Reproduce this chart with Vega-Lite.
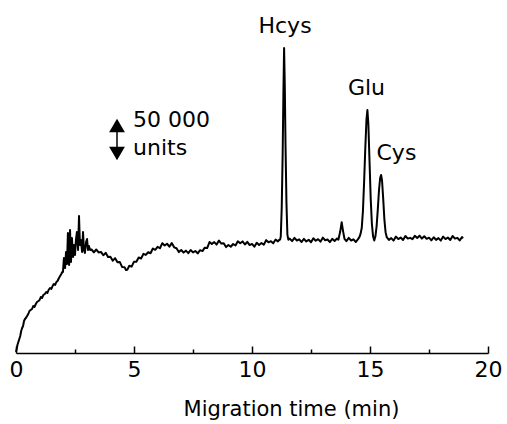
{
  "$schema": "https://vega.github.io/schema/vega-lite/v6.json",
  "width": 472,
  "height": 353,
  "autosize": {"type": "none"},
  "padding": {"left": 16, "right": 19, "top": 0, "bottom": 71},
  "background": "white",
  "config": {"view": {"stroke": null}, "font": "DejaVu Sans"},
  "datasets": {
    "trace": [
      {"time":0,"signal":1.2},{"time":0.03,"signal":4.8},{"time":0.06,"signal":9.6},{"time":0.10,"signal":13.2},{"time":0.14,"signal":16.8},{"time":0.18,"signal":20.4},{"time":0.22,"signal":26.4},{"time":0.26,"signal":30},{"time":0.30,"signal":32.4},{"time":0.34,"signal":38.4},{"time":0.38,"signal":40.8},{"time":0.42,"signal":42},{"time":0.47,"signal":44.4},{"time":0.52,"signal":46.8},{"time":0.57,"signal":50.4},{"time":0.62,"signal":51.6},{"time":0.68,"signal":52.8},{"time":0.73,"signal":56.4},{"time":0.78,"signal":55.2},{"time":0.84,"signal":58.8},{"time":0.89,"signal":61.2},{"time":0.95,"signal":62.4},{"time":1.00,"signal":63.6},{"time":1.05,"signal":67.2},{"time":1.10,"signal":66},{"time":1.16,"signal":69.6},{"time":1.22,"signal":70.8},{"time":1.28,"signal":73.2},{"time":1.33,"signal":72},{"time":1.38,"signal":75.6},{"time":1.44,"signal":78},{"time":1.50,"signal":76.8},{"time":1.55,"signal":80.4},{"time":1.60,"signal":82.8},{"time":1.66,"signal":81.6},{"time":1.71,"signal":85.2},{"time":1.76,"signal":86.4},{"time":1.82,"signal":90},{"time":1.87,"signal":92.4},{"time":1.92,"signal":94.8},{"time":1.96,"signal":97.2},
      {"time":1.99,"signal":97.2},{"time":2.03,"signal":114},{"time":2.08,"signal":102},{"time":2.12,"signal":121.2},{"time":2.16,"signal":106.8},{"time":2.20,"signal":144},{"time":2.25,"signal":105.6},{"time":2.29,"signal":147.6},{"time":2.33,"signal":109.2},{"time":2.37,"signal":138},{"time":2.42,"signal":115.2},{"time":2.46,"signal":129.6},{"time":2.50,"signal":117.6},{"time":2.54,"signal":135.6},{"time":2.58,"signal":145.2},{"time":2.63,"signal":123.6},{"time":2.67,"signal":164.4},{"time":2.71,"signal":129.6},{"time":2.75,"signal":135.6},{"time":2.80,"signal":121.2},{"time":2.84,"signal":145.2},{"time":2.88,"signal":123.6},{"time":2.92,"signal":120},{"time":2.97,"signal":133.2},{"time":3.01,"signal":136.8},{"time":3.05,"signal":123.6},{"time":3.09,"signal":128.4},{"time":3.14,"signal":123.6},
      {"time":3.2,"signal":124.2},{"time":3.3,"signal":120.8},{"time":3.4,"signal":124.2},{"time":3.5,"signal":120.7},{"time":3.6,"signal":121.3},{"time":3.7,"signal":117.3},{"time":3.8,"signal":120.2},{"time":3.9,"signal":115.3},{"time":4.0,"signal":115.6},{"time":4.1,"signal":110.8},{"time":4.2,"signal":113.8},{"time":4.3,"signal":109.0},{"time":4.4,"signal":109.1},{"time":4.5,"signal":103.1},{"time":4.6,"signal":103.0},{"time":4.66,"signal":99.6},{"time":4.72,"signal":100},{"time":4.8,"signal":104.7},{"time":4.9,"signal":103.6},{"time":5.0,"signal":109.6},{"time":5.1,"signal":109.4},{"time":5.2,"signal":114.6},{"time":5.3,"signal":113.4},{"time":5.4,"signal":119.0},{"time":5.5,"signal":117.7},{"time":5.6,"signal":120.9},{"time":5.7,"signal":119.7},{"time":5.8,"signal":125.4},{"time":5.9,"signal":123.8},{"time":6.0,"signal":127.4},{"time":6.1,"signal":125.7},{"time":6.2,"signal":131.8},{"time":6.3,"signal":129.0},{"time":6.4,"signal":131.1},{"time":6.5,"signal":127.6},{"time":6.6,"signal":131.9},{"time":6.7,"signal":126.8},{"time":6.8,"signal":125.7},{"time":6.9,"signal":121.1},{"time":7.0,"signal":123.6},{"time":7.1,"signal":120.5},{"time":7.2,"signal":122.8},{"time":7.3,"signal":119.8},{"time":7.4,"signal":123.6},{"time":7.5,"signal":120.7},{"time":7.6,"signal":122.4},{"time":7.7,"signal":119.5},{"time":7.8,"signal":123.4},{"time":7.9,"signal":122.3},{"time":8.0,"signal":126.4},{"time":8.1,"signal":125.9},{"time":8.2,"signal":133.2},{"time":8.3,"signal":130.7},{"time":8.4,"signal":133.1},{"time":8.5,"signal":130.1},{"time":8.6,"signal":134.9},{"time":8.7,"signal":131.3},{"time":8.8,"signal":131.7},{"time":8.9,"signal":127.1},{"time":9.0,"signal":129.6},{"time":9.1,"signal":127.5},{"time":9.2,"signal":130.8},{"time":9.3,"signal":129.0},{"time":9.4,"signal":134.1},{"time":9.5,"signal":131.7},{"time":9.6,"signal":133.9},{"time":9.7,"signal":130.2},{"time":9.8,"signal":133.4},{"time":9.9,"signal":129.5},{"time":10.0,"signal":130.9},{"time":10.1,"signal":127.6},{"time":10.2,"signal":132.2},{"time":10.3,"signal":129.7},{"time":10.4,"signal":132.1},{"time":10.5,"signal":129.9},{"time":10.6,"signal":135.4},{"time":10.7,"signal":132.8},{"time":10.8,"signal":134.2},{"time":10.9,"signal":131.6},{"time":11.0,"signal":136.1},{"time":11.1,"signal":134.0},{"time":11.15,"signal":135.6},
      {"time":11.19,"signal":136},{"time":11.22,"signal":140},{"time":11.26,"signal":175},{"time":11.30,"signal":240},{"time":11.33,"signal":310},{"time":11.36,"signal":366},{"time":11.39,"signal":320},{"time":11.42,"signal":250},{"time":11.46,"signal":180},{"time":11.50,"signal":142},{"time":11.54,"signal":136},
      {"time":11.6,"signal":137.3},{"time":11.7,"signal":134.3},{"time":11.8,"signal":138.1},{"time":11.9,"signal":135.0},{"time":12.0,"signal":136.4},{"time":12.1,"signal":133.2},{"time":12.2,"signal":136.9},{"time":12.3,"signal":133.8},{"time":12.4,"signal":135.9},{"time":12.5,"signal":132.9},{"time":12.6,"signal":137.7},{"time":12.7,"signal":134.7},{"time":12.8,"signal":136.6},{"time":12.9,"signal":133.6},{"time":13.0,"signal":138.4},{"time":13.1,"signal":135.3},{"time":13.2,"signal":136.2},{"time":13.3,"signal":133.1},{"time":13.4,"signal":137.1},{"time":13.5,"signal":134.5},{"time":13.6,"signal":137.3},{"time":13.66,"signal":136},
      {"time":13.74,"signal":146},{"time":13.80,"signal":157},{"time":13.86,"signal":146},{"time":13.92,"signal":137},
      {"time":14.0,"signal":134.3},{"time":14.1,"signal":138.1},{"time":14.2,"signal":135.0},{"time":14.3,"signal":136.4},{"time":14.4,"signal":133.2},{"time":14.5,"signal":136.9},{"time":14.55,"signal":139},
      {"time":14.60,"signal":143},{"time":14.65,"signal":150},{"time":14.70,"signal":170},{"time":14.75,"signal":205},{"time":14.80,"signal":245},{"time":14.85,"signal":280},{"time":14.89,"signal":291.6},{"time":14.93,"signal":275},{"time":14.98,"signal":230},{"time":15.03,"signal":185},{"time":15.08,"signal":155},{"time":15.13,"signal":140},{"time":15.18,"signal":135},{"time":15.23,"signal":140},{"time":15.28,"signal":152},{"time":15.33,"signal":172},{"time":15.38,"signal":195},{"time":15.43,"signal":210},{"time":15.47,"signal":213.6},{"time":15.51,"signal":207},{"time":15.56,"signal":185},{"time":15.61,"signal":160},{"time":15.66,"signal":145},{"time":15.71,"signal":139},
      {"time":15.8,"signal":135.8},{"time":15.9,"signal":137.9},{"time":16.0,"signal":134.9},{"time":16.1,"signal":139.7},{"time":16.2,"signal":136.7},{"time":16.3,"signal":138.6},{"time":16.4,"signal":135.6},{"time":16.5,"signal":140.4},{"time":16.6,"signal":137.3},{"time":16.7,"signal":138.2},{"time":16.8,"signal":136.6},{"time":16.9,"signal":140.6},{"time":17.0,"signal":138.0},{"time":17.1,"signal":140.8},{"time":17.2,"signal":137.3},{"time":17.3,"signal":140.1},{"time":17.4,"signal":137.0},{"time":17.5,"signal":138.4},{"time":17.6,"signal":135.2},{"time":17.7,"signal":138.9},{"time":17.8,"signal":135.8},{"time":17.9,"signal":137.9},{"time":18.0,"signal":134.9},{"time":18.1,"signal":139.7},{"time":18.2,"signal":136.7},{"time":18.3,"signal":138.6},{"time":18.4,"signal":135.6},{"time":18.5,"signal":140.4},{"time":18.6,"signal":137.3},{"time":18.7,"signal":138.2},{"time":18.8,"signal":135.1},{"time":18.9,"signal":139.1},{"time":18.94,"signal":137.5}
    ],
    "peaks": [
      {"time":11.40,"signal":384,"label":"Hcys"},
      {"time":14.85,"signal":309.6,"label":"Glu"},
      {"time":16.12,"signal":231.6,"label":"Cys"}
    ],
    "scalebar_text": [
      {"time":4.96,"signal":271.2,"label":"50 000"},
      {"time":4.96,"signal":237.6,"label":"units"}
    ],
    "scalebar": [
      {"time":4.28,"top":273,"bottom":239.4}
    ]
  },
  "layer": [
    {
      "data": {"name": "trace"},
      "mark": {"type": "line", "color": "black", "strokeWidth": 2, "interpolate": "linear", "strokeJoin": "round"},
      "encoding": {
        "x": {
          "field": "time", "type": "quantitative",
          "scale": {"domain": [0, 20], "nice": false, "zero": false},
          "axis": {
            "values": [0, 2.5, 5, 7.5, 10, 12.5, 15, 17.5, 20],
            "labelExpr": "datum.value % 5 === 0 ? datum.label : ''",
            "tickSize": {"condition": {"test": "datum.value % 5 === 0", "value": -7}, "value": -4},
            "tickColor": "black", "tickWidth": 1.5,
            "domainColor": "black", "domainWidth": 1.5,
            "grid": false,
            "labelFont": "DejaVu Sans", "labelFontSize": 22, "labelColor": "black",
            "labelBaseline": "alphabetic", "labelPadding": 30, "labelFlush": false, "labelOverlap": false,
            "title": "Migration time (min)",
            "titleFont": "DejaVu Sans", "titleFontSize": 21, "titleFontWeight": "normal", "titleColor": "black",
            "titleX": 275, "titleY": 62, "titleBaseline": "alphabetic", "titleAlign": "center"
          }
        },
        "y": {
          "field": "signal", "type": "quantitative",
          "scale": {"domain": [0, 423.6], "nice": false, "zero": false},
          "axis": null
        }
      }
    },
    {
      "data": {"name": "scalebar"},
      "mark": {"type": "rule", "color": "black", "strokeWidth": 1.5},
      "encoding": {
        "x": {"field": "time", "type": "quantitative"},
        "y": {"field": "top", "type": "quantitative"},
        "y2": {"field": "bottom"}
      }
    },
    {
      "data": {"name": "scalebar"},
      "mark": {"type": "point", "shape": "triangle-up", "filled": true, "color": "black", "size": 250, "opacity": 1},
      "encoding": {
        "x": {"field": "time", "type": "quantitative"},
        "y": {"field": "top", "type": "quantitative"}
      }
    },
    {
      "data": {"name": "scalebar"},
      "mark": {"type": "point", "shape": "triangle-down", "filled": true, "color": "black", "size": 250, "opacity": 1},
      "encoding": {
        "x": {"field": "time", "type": "quantitative"},
        "y": {"field": "bottom", "type": "quantitative"}
      }
    },
    {
      "data": {"name": "peaks"},
      "mark": {"type": "text", "align": "center", "baseline": "alphabetic", "font": "DejaVu Sans", "fontSize": 22, "color": "black"},
      "encoding": {
        "x": {"field": "time", "type": "quantitative"},
        "y": {"field": "signal", "type": "quantitative"},
        "text": {"field": "label"}
      }
    },
    {
      "data": {"name": "scalebar_text"},
      "mark": {"type": "text", "align": "left", "baseline": "alphabetic", "font": "DejaVu Sans", "fontSize": 22, "color": "black"},
      "encoding": {
        "x": {"field": "time", "type": "quantitative"},
        "y": {"field": "signal", "type": "quantitative"},
        "text": {"field": "label"}
      }
    }
  ]
}
